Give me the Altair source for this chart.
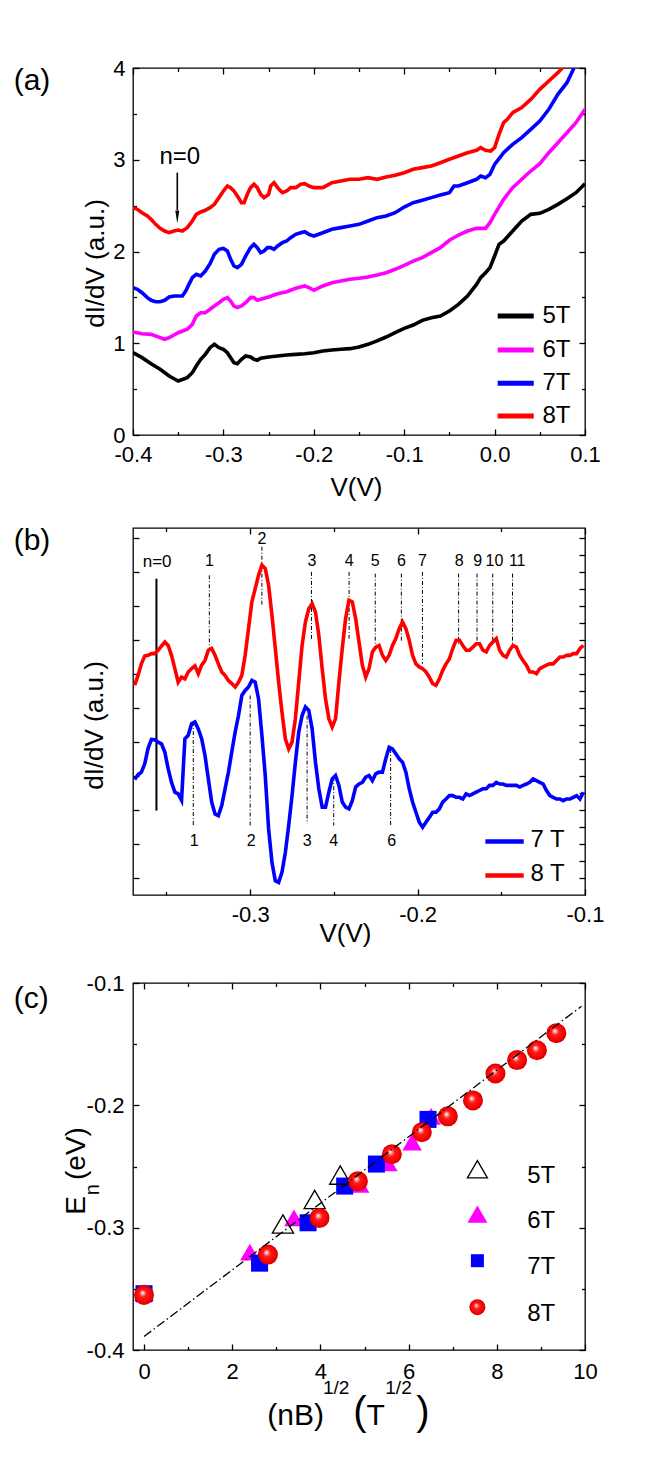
import altair as alt
import pandas as pd

FONT = "Liberation Sans"
W, H = 452, 367
MINUS = "replace(datum.label, '\u2212', '-')"

# ---------------- panel (a): dI/dV curves at 5T..8T ----------------
A_SERIES = ["5T", "6T", "7T", "8T"]
A_COLORS = ["#000000", "#ff00ff", "#0000ff", "#ff0000"]

A_V_5T = [-0.4, -0.39, -0.38, -0.37, -0.36, -0.35, -0.34, -0.3344, -0.33, -0.3251,
          -0.32, -0.3148, -0.31, -0.3049, -0.30, -0.2956, -0.292, -0.2883, -0.2846, -0.28,
          -0.2754, -0.27, -0.2662, -0.2625, -0.2588, -0.25, -0.24, -0.23, -0.22, -0.21,
          -0.20, -0.19, -0.18, -0.17, -0.16, -0.15, -0.14, -0.13, -0.12, -0.11,
          -0.10, -0.09, -0.08, -0.07, -0.06, -0.05, -0.04, -0.03, -0.02, -0.0154,
          -0.01, -0.0051, 0.0, 0.0049, 0.01, 0.02, 0.03, 0.04, 0.05, 0.06,
          0.07, 0.08, 0.09, 0.10]
A_G_5T = [0.897, 0.843, 0.777, 0.716, 0.643, 0.589, 0.625, 0.679, 0.752, 0.825,
          0.879, 0.952, 0.988, 0.952, 0.934, 0.897, 0.843, 0.788, 0.777, 0.825,
          0.861, 0.850, 0.825, 0.814, 0.836, 0.850, 0.861, 0.872, 0.879, 0.886,
          0.897, 0.916, 0.926, 0.934, 0.941, 0.959, 0.988, 1.025, 1.068, 1.115,
          1.163, 1.199, 1.250, 1.279, 1.297, 1.352, 1.424, 1.515, 1.642, 1.715,
          1.769, 1.824, 1.951, 2.078, 2.114, 2.223, 2.332, 2.405, 2.416, 2.460,
          2.514, 2.576, 2.641, 2.739]

A_V_6T = [-0.4, -0.39, -0.38, -0.37, -0.365, -0.36, -0.3546, -0.35, -0.34, -0.3344,
          -0.33, -0.3251, -0.32, -0.3148, -0.31, -0.3049, -0.30, -0.2956, -0.292, -0.2883,
          -0.2846, -0.28, -0.2754, -0.27, -0.2662, -0.2625, -0.2588, -0.25, -0.24, -0.23,
          -0.22, -0.21, -0.2053, -0.20, -0.19, -0.18, -0.17, -0.16, -0.15, -0.14,
          -0.13, -0.12, -0.11, -0.10, -0.09, -0.08, -0.07, -0.06, -0.05, -0.04,
          -0.03, -0.02, -0.01, -0.0051, 0.0, 0.01, 0.02, 0.03, 0.04, 0.05,
          0.06, 0.07, 0.08, 0.09, 0.10]
A_G_6T = [1.123, 1.104, 1.097, 1.061, 1.043, 1.061, 1.090, 1.115, 1.152, 1.206,
          1.297, 1.333, 1.333, 1.370, 1.406, 1.442, 1.479, 1.497, 1.460, 1.406,
          1.388, 1.406, 1.442, 1.497, 1.497, 1.468, 1.479, 1.504, 1.540, 1.562,
          1.599, 1.624, 1.606, 1.577, 1.624, 1.660, 1.678, 1.697, 1.708, 1.722,
          1.744, 1.769, 1.806, 1.849, 1.896, 1.933, 1.987, 2.042, 2.122, 2.180,
          2.223, 2.252, 2.252, 2.314, 2.405, 2.569, 2.696, 2.787, 2.877, 2.957,
          3.077, 3.186, 3.295, 3.404, 3.549]

A_V_7T = [-0.4, -0.3952, -0.39, -0.3841, -0.38, -0.3749, -0.37, -0.365, -0.36, -0.3546,
          -0.35, -0.3454, -0.3417, -0.3381, -0.3344, -0.33, -0.3251, -0.32, -0.3148, -0.31,
          -0.3049, -0.30, -0.2956, -0.292, -0.2883, -0.2846, -0.28, -0.2754, -0.27, -0.2662,
          -0.2625, -0.2588, -0.2551, -0.2514, -0.2477, -0.244, -0.24, -0.2348, -0.23, -0.2256,
          -0.22, -0.2145, -0.21, -0.2053, -0.20, -0.19, -0.18, -0.17, -0.16, -0.15,
          -0.14, -0.13, -0.12, -0.11, -0.10, -0.09, -0.08, -0.07, -0.06, -0.05,
          -0.0449, -0.04, -0.03, -0.02, -0.0154, -0.01, -0.0051, 0.0, 0.01, 0.02,
          0.03, 0.04, 0.05, 0.06, 0.07, 0.08, 0.0878]
A_G_7T = [1.606, 1.588, 1.551, 1.497, 1.468, 1.453, 1.453, 1.468, 1.504, 1.515,
          1.515, 1.515, 1.569, 1.642, 1.715, 1.751, 1.733, 1.787, 1.867, 1.969,
          2.024, 2.034, 2.005, 1.915, 1.842, 1.824, 1.860, 1.951, 2.042, 2.078,
          2.042, 1.987, 2.005, 2.042, 2.042, 2.024, 2.060, 2.096, 2.114, 2.151,
          2.187, 2.205, 2.216, 2.187, 2.169, 2.205, 2.242, 2.260, 2.278, 2.296,
          2.332, 2.369, 2.387, 2.423, 2.485, 2.532, 2.558, 2.587, 2.616, 2.641,
          2.714, 2.714, 2.750, 2.787, 2.823, 2.805, 2.841, 2.950, 3.077, 3.168,
          3.241, 3.331, 3.422, 3.550, 3.713, 3.840, 4.0]

A_V_8T = [-0.4, -0.3952, -0.39, -0.3841, -0.38, -0.3749, -0.37, -0.365, -0.36, -0.3546,
          -0.35, -0.3454, -0.34, -0.3344, -0.33, -0.3251, -0.32, -0.3148, -0.31, -0.3049,
          -0.30, -0.2956, -0.292, -0.2883, -0.2846, -0.28, -0.2772, -0.2735, -0.27, -0.2662,
          -0.2625, -0.2588, -0.2551, -0.25, -0.2477, -0.244, -0.24, -0.2348, -0.23, -0.2256,
          -0.22, -0.2145, -0.21, -0.2053, -0.20, -0.19, -0.18, -0.17, -0.16, -0.15,
          -0.14, -0.13, -0.12, -0.11, -0.10, -0.09, -0.08, -0.07, -0.06, -0.05,
          -0.04, -0.03, -0.02, -0.0154, -0.01, -0.0044, 0.0, 0.0049, 0.01, 0.0141,
          0.02, 0.03, 0.04, 0.05, 0.06, 0.07, 0.0749]
A_G_8T = [2.478, 2.460, 2.423, 2.387, 2.351, 2.296, 2.252, 2.223, 2.205, 2.223,
          2.234, 2.223, 2.260, 2.332, 2.405, 2.431, 2.449, 2.478, 2.514, 2.587,
          2.659, 2.714, 2.696, 2.659, 2.605, 2.532, 2.532, 2.623, 2.696, 2.732,
          2.696, 2.623, 2.587, 2.623, 2.714, 2.750, 2.696, 2.641, 2.659, 2.696,
          2.696, 2.732, 2.739, 2.714, 2.696, 2.696, 2.750, 2.768, 2.787, 2.787,
          2.805, 2.787, 2.812, 2.830, 2.859, 2.896, 2.914, 2.932, 2.968, 3.005,
          3.041, 3.077, 3.103, 3.132, 3.103, 3.095, 3.132, 3.277, 3.404, 3.440,
          3.513, 3.568, 3.658, 3.767, 3.858, 3.949, 4.0]

A_CURVES = [(A_V_5T, A_G_5T), (A_V_6T, A_G_6T), (A_V_7T, A_G_7T), (A_V_8T, A_G_8T)]
A_LEG_Y = [1.297, 0.926, 0.563, 0.207]

# ---------------- panel (b): 7T and 8T curves ----------------
B_V = [round(-0.369 + 0.002 * i, 4) for i in range(135)]
B_G_8T = [6.16, 6.45, 6.79, 7.02, 7.04, 7.09, 7.09, 7.19, 7.31, 7.43,
          7.33, 7.04, 6.65, 6.25, 6.40, 6.35, 6.55, 6.65, 6.73, 6.50,
          6.75, 6.89, 7.19, 7.24, 7.04, 6.79, 6.55, 6.45, 6.30, 6.21,
          6.11, 6.25, 6.45, 7.04, 7.82, 8.61, 9.00, 9.39, 9.69, 9.59,
          9.10, 8.22, 7.24, 6.25, 5.37, 4.59, 4.29, 4.49, 5.18, 6.25,
          7.33, 8.02, 8.41, 8.56, 8.31, 7.63, 6.65, 5.76, 5.18, 4.93,
          5.18, 6.25, 7.24, 8.12, 8.66, 8.61, 8.12, 7.43, 6.75, 6.40,
          6.65, 7.14, 7.28, 7.33, 7.04, 6.89, 7.04, 7.33, 7.53, 7.82,
          8.02, 7.82, 7.48, 7.04, 6.79, 6.70, 6.65, 6.55, 6.40, 6.21,
          6.16, 6.35, 6.60, 6.79, 6.94, 7.24, 7.48, 7.48, 7.33, 7.19,
          7.19, 7.28, 7.38, 7.38, 7.19, 7.14, 7.33, 7.43, 7.53, 7.19,
          7.04, 6.99, 7.19, 7.33, 7.28, 7.04, 6.89, 6.75, 6.55, 6.55,
          6.50, 6.65, 6.70, 6.75, 6.79, 6.79, 6.89, 6.99, 6.99, 7.04,
          7.04, 7.09, 7.09, 7.24, 7.33]
B_G_7T = [3.39, 3.53, 3.61, 3.85, 4.31, 4.57, 4.56, 4.49, 4.44, 4.20,
          3.71, 3.31, 3.02, 2.97, 2.78, 4.59, 4.69, 5.03, 5.08, 4.88,
          4.59, 4.10, 3.41, 2.73, 2.38, 2.33, 2.63, 3.12, 3.61, 4.20,
          4.78, 5.27, 5.86, 6.01, 6.11, 6.30, 6.25, 5.76, 4.69, 3.51,
          1.94, 0.96, 0.42, 0.37, 0.67, 1.25, 2.04, 2.92, 3.90, 4.78,
          5.27, 5.52, 5.42, 4.88, 3.90, 3.12, 2.58, 2.58, 3.02, 3.41,
          3.51, 3.22, 2.73, 2.58, 2.53, 2.77, 3.17, 3.26, 3.31, 3.46,
          3.51, 3.36, 3.56, 3.61, 3.61, 4.00, 4.34, 4.29, 4.15, 4.00,
          3.90, 3.61, 3.12, 2.73, 2.43, 2.14, 1.99, 2.14, 2.28, 2.43,
          2.43, 2.53, 2.73, 2.82, 2.92, 2.92, 2.87, 2.87, 2.82, 2.97,
          2.92, 2.97, 3.02, 3.07, 3.12, 3.12, 3.22, 3.22, 3.31, 3.26,
          3.26, 3.22, 3.22, 3.22, 3.22, 3.17, 3.22, 3.26, 3.31, 3.41,
          3.36, 3.31, 3.26, 3.07, 2.92, 2.87, 2.82, 2.82, 2.77, 2.82,
          2.82, 2.87, 2.92, 2.82, 3.02]

# Landau level markers, 8T (top)
B_TOP_N = ["1", "2", "3", "4", "5", "6", "7", "8", "9", "10", "11"]
B_TOP_TX = [-0.3244, -0.2930, -0.2631, -0.2409, -0.2253, -0.2097, -0.1971, -0.1751, -0.1641, -0.1541, -0.1405]
B_TOP_TY = [9.81, 10.45, 9.81, 9.81, 9.81, 9.81, 9.81, 9.81, 9.81, 9.81, 9.81]
B_TOP_LX = [-0.3244, -0.2930, -0.2634, -0.2409, -0.2253, -0.2097, -0.1971, -0.1755, -0.1645, -0.1551, -0.1433]
B_TOP_Y1 = [9.39, 10.23, 9.49, 9.49, 9.44, 9.44, 9.49, 9.44, 9.44, 9.44, 9.44]
B_TOP_Y2 = [7.24, 8.51, 7.48, 7.53, 7.38, 7.43, 6.79, 7.38, 7.38, 7.48, 7.38]
# Landau level markers, 7T (bottom)
B_BOT_N = ["1", "2", "3", "4", "6"]
B_BOT_TX = [-0.3334, -0.2994, -0.2660, -0.2501, -0.2155]
B_BOT_LX = [-0.3340, -0.3000, -0.2660, -0.2501, -0.2161]
B_BOT_Y1 = [5.08, 5.86, 5.27, 3.46, 4.29]
B_BOT_Y2 = [2.04, 2.04, 2.09, 2.04, 2.04]

# ---------------- panel (c): E_n vs sqrt(nB) ----------------
C_X_5T = [3.15, 3.87, 4.45]
C_Y_5T = [-0.297, -0.277, -0.257]
C_X_6T = [0.0, 2.40, 3.40, 4.89, 5.53, 6.08, 6.51]
C_Y_6T = [-0.353, -0.320, -0.292, -0.2645, -0.247, -0.230, -0.209]
C_X_7T = [0.0, 2.62, 3.72, 4.55, 5.27, 6.44]
C_Y_7T = [-0.354, -0.329, -0.296, -0.266, -0.248, -0.2115]
C_X_8T = [0.0, 2.81, 3.98, 4.85, 5.62, 6.30, 6.89, 7.46, 7.97, 8.46, 8.91, 9.35]
C_Y_8T = [-0.355, -0.322, -0.292, -0.262, -0.240, -0.222, -0.209, -0.196, -0.174, -0.163, -0.155, -0.141]
C_FIT_X = [0.0, 9.92]
C_FIT_Y = [-0.389, -0.119]
C_LEG_Y = [-0.2523, -0.289, -0.327, -0.365]


# ---------------- helpers ----------------
def tick_axis(orient, values, size):
    return alt.Axis(orient=orient, values=values, tickSize=size, offset=-size,
                    labels=False, domain=False, grid=False, ticks=True,
                    tickColor="black", tickWidth=1.3, title=None)


def main_axis(orient, values, fmt, labels=True, pad=8, **kw):
    return alt.Axis(orient=orient, values=values, format=fmt, tickSize=6, offset=-6,
                    labels=labels, labelExpr=MINUS, labelFont=FONT, labelFontSize=22,
                    labelColor="black", labelPadding=pad, labelFlush=False,
                    labelOverlap=False, domain=False, grid=False, ticks=True,
                    tickColor="black", tickWidth=1.3, titleFont=FONT, titleFontSize=26,
                    titleFontWeight="normal", titleColor="black", **kw)


def frame(sx, sy, xdom, ydom, xa, ya, xmaj, ymaj, xmin, ymin):
    corner = pd.DataFrame({"x": [xdom[0]], "y": [ydom[0]]})

    def carrier(xax, yax):
        return alt.Chart(corner).mark_point(opacity=0).encode(
            x=alt.X("x:Q", scale=sx, axis=xax),
            y=alt.Y("y:Q", scale=sy, axis=yax))

    layers = [carrier(xa, ya),
              carrier(tick_axis("top", xmaj, 6), tick_axis("right", ymaj, 6))]
    if xmin:
        layers.append(carrier(tick_axis("bottom", xmin, 3.5),
                              tick_axis("left", ymin, 3.5) if ymin else None))
        layers.append(carrier(tick_axis("top", xmin, 3.5),
                              tick_axis("right", ymin, 3.5) if ymin else None))
    return layers


def enc(sx, sy, **extra):
    d = dict(x=alt.X("x:Q", scale=sx, axis=None), y=alt.Y("y:Q", scale=sy, axis=None))
    d.update(extra)
    return d


def panel_label(txt, dy):
    return alt.Chart(pd.DataFrame({"t": [txt]})).mark_text(
        align="left", baseline="alphabetic", font=FONT, fontSize=30, color="black"
    ).encode(x=alt.value(-119.3), y=alt.value(dy), text="t:N")


def texts(df, sx, sy, size, align="center", baseline="middle"):
    return alt.Chart(df).mark_text(align=align, baseline=baseline, font=FONT,
                                   fontSize=size, color="black").encode(
        **enc(sx, sy, text="t:N"))


# ---------------- panel (a) ----------------
XA, YA = [-0.4, 0.1], [0, 4]
sxa = alt.Scale(domain=XA, nice=False, zero=False)
sya = alt.Scale(domain=YA, nice=False, zero=False)

layers_a = frame(
    sxa, sya, XA, YA,
    main_axis("bottom", [-0.4, -0.3, -0.2, -0.1, 0.0, 0.1], ".1f", pad=9.5,
              title="V(V)", titleX=223, titleY=45.4, titleBaseline="top", titleAlign="center"),
    main_axis("left", [0, 1, 2, 3, 4], "d", pad=8, title="dI/dV (a.u.)",
              titleX=-30.3, titleY=195, titleAngle=270, titleBaseline="bottom", titleAlign="center"),
    [-0.4, -0.3, -0.2, -0.1, 0.0, 0.1], [0, 1, 2, 3, 4],
    [-0.35, -0.25, -0.15, -0.05, 0.05], [0.5, 1.5, 2.5, 3.5])

for (vv, gg), col in zip(A_CURVES, A_COLORS):
    df = pd.DataFrame({"x": vv, "y": gg})
    layers_a.append(alt.Chart(df).mark_line(color=col, strokeWidth=3.6, clip=True).encode(**enc(sxa, sya)))

leg_a = pd.DataFrame({"x": [0.0034] * 4, "x2": [0.0433] * 4, "y": A_LEG_Y, "c": A_SERIES})
for i, col in enumerate(A_COLORS):
    layers_a.append(alt.Chart(leg_a.iloc[[i]]).mark_rule(color=col, strokeWidth=5).encode(
        **enc(sxa, sya, x2="x2:Q")))
leg_a_t = pd.DataFrame({"x": [0.053] * 4, "y": A_LEG_Y, "t": A_SERIES})
layers_a.append(texts(leg_a_t, sxa, sya, 24, align="left"))

# n=0 arrow
layers_a.append(texts(pd.DataFrame({"x": [-0.3483], "y": [3.03], "t": ["n=0"]}), sxa, sya, 24))
layers_a.append(alt.Chart(pd.DataFrame({"x": [-0.351], "y": [2.859], "y2": [2.452]})).mark_rule(
    color="black", strokeWidth=1.6).encode(**enc(sxa, sya, y2="y2:Q")))
layers_a.append(alt.Chart(pd.DataFrame({"x": [-0.351], "y": [2.376]})).mark_point(
    shape="M-0.31,-1L0.31,-1L0,1Z", filled=True, color="black", size=169, opacity=1).encode(**enc(sxa, sya)))
layers_a.append(panel_label("(a)", 21.7))

pa = alt.layer(*layers_a).resolve_axis(x="independent", y="independent").properties(width=W, height=H)

# ---------------- panel (b) ----------------
XB, YB = [-0.37, -0.1], [0, 10.78]
sxb = alt.Scale(domain=XB, nice=False, zero=False)
syb = alt.Scale(domain=YB, nice=False, zero=False)
YB_TICKS = [0.5 * k for k in range(1, 22)]

layers_b = frame(
    sxb, syb, XB, YB,
    main_axis("bottom", [-0.3, -0.2, -0.1], ".1f", pad=9.5, title="V(V)",
              titleX=212, titleY=31.4, titleBaseline="top", titleAlign="center"),
    main_axis("left", YB_TICKS, "d", labels=False, title="dI/dV (a.u.)",
              titleX=-32, titleY=197, titleAngle=270, titleBaseline="bottom", titleAlign="center"),
    [-0.3, -0.2, -0.1], YB_TICKS, [-0.35, -0.25, -0.15], None)

# marker lines
top_lines = pd.DataFrame({"x": B_TOP_LX, "y": B_TOP_Y1, "y2": B_TOP_Y2})
bot_lines = pd.DataFrame({"x": B_BOT_LX, "y": B_BOT_Y1, "y2": B_BOT_Y2})
for d in (top_lines, bot_lines):
    layers_b.append(alt.Chart(d).mark_rule(color="black", strokeWidth=1, strokeDash=[4, 2, 1, 2]).encode(
        **enc(sxb, syb, y2="y2:Q")))
layers_b.append(alt.Chart(pd.DataFrame({"x": [-0.356], "y": [9.29], "y2": [2.48]})).mark_rule(
    color="black", strokeWidth=2).encode(**enc(sxb, syb, y2="y2:Q")))

layers_b.append(alt.Chart(pd.DataFrame({"x": B_V, "y": B_G_7T})).mark_line(
    color="#0000ff", strokeWidth=3.6, clip=True).encode(**enc(sxb, syb)))
layers_b.append(alt.Chart(pd.DataFrame({"x": B_V, "y": B_G_8T})).mark_line(
    color="#ff0000", strokeWidth=3.6, clip=True).encode(**enc(sxb, syb)))

layers_b.append(texts(pd.DataFrame({"x": B_TOP_TX, "y": B_TOP_TY, "t": B_TOP_N}), sxb, syb, 16))
layers_b.append(texts(pd.DataFrame({"x": B_BOT_TX, "y": [1.60] * 5, "t": B_BOT_N}), sxb, syb, 16))
layers_b.append(texts(pd.DataFrame({"x": [-0.3556], "y": [9.79], "t": ["n=0"]}), sxb, syb, 17))

leg_b = pd.DataFrame({"x": [-0.1595, -0.1595], "x2": [-0.1366, -0.1366], "y": [1.57, 0.57]})
for i, col in enumerate(["#0000ff", "#ff0000"]):
    layers_b.append(alt.Chart(leg_b.iloc[[i]]).mark_rule(color=col, strokeWidth=4.5).encode(
        **enc(sxb, syb, x2="x2:Q")))
layers_b.append(texts(pd.DataFrame({"x": [-0.1326, -0.1326], "y": [1.63, 0.63], "t": ["7 T", "8 T"]}),
                      sxb, syb, 24, align="left"))
layers_b.append(panel_label("(b)", 21.7))

pb = alt.layer(*layers_b).resolve_axis(x="independent", y="independent").properties(width=W, height=H)

# ---------------- panel (c) ----------------
XC, YC = [-0.25, 10], [-0.4, -0.1]
sxc = alt.Scale(domain=XC, nice=False, zero=False)
syc = alt.Scale(domain=YC, nice=False, zero=False)

layers_c = frame(
    sxc, syc, XC, YC,
    main_axis("bottom", [0, 2, 4, 6, 8, 10], "d", pad=11, title=None),
    main_axis("left", [-0.4, -0.3, -0.2, -0.1], ".1f", pad=9, title=None),
    [0, 2, 4, 6, 8, 10], [-0.4, -0.3, -0.2, -0.1],
    [1, 3, 5, 7, 9], [-0.35, -0.25, -0.15])

SPHERE = {"gradient": "radial", "x1": 0.42, "y1": 0.38, "r1": 0.0,
          "x2": 0.5, "y2": 0.5, "r2": 0.5,
          "stops": [{"offset": 0.0, "color": "#ffffff"},
                    {"offset": 0.13, "color": "#ffb4b4"},
                    {"offset": 0.36, "color": "#ff1c1c"},
                    {"offset": 0.85, "color": "#f20000"},
                    {"offset": 1.0, "color": "#cc0000"}]}


def open_tri(df, size):
    return alt.Chart(df).mark_point(shape="triangle-up", filled=False, stroke="black",
                                    strokeWidth=1.3, size=size, opacity=1).encode(**enc(sxc, syc))


def filled_pt(df, shape, col, size):
    return alt.Chart(df).mark_point(shape=shape, filled=True, color=col, size=size,
                                    opacity=1).encode(**enc(sxc, syc))


def sphere(df, size):
    return alt.Chart(df).mark_point(shape="circle", filled=True, fill=SPHERE, size=size,
                                    opacity=1, strokeWidth=0).encode(**enc(sxc, syc))


layers_c.append(filled_pt(pd.DataFrame({"x": C_X_6T, "y": C_Y_6T}), "triangle-up", "#ff00ff", 380))
layers_c.append(filled_pt(pd.DataFrame({"x": C_X_7T, "y": C_Y_7T}), "square", "#0000ff", 290))
layers_c.append(open_tri(pd.DataFrame({"x": C_X_5T, "y": C_Y_5T}), 450))
layers_c.append(sphere(pd.DataFrame({"x": C_X_8T, "y": C_Y_8T}), 400))
layers_c.append(alt.Chart(pd.DataFrame({"x": C_FIT_X, "y": C_FIT_Y})).mark_line(
    color="black", strokeWidth=1.3, strokeDash=[9, 3, 1.5, 3]).encode(**enc(sxc, syc)))

# legend (c)
layers_c.append(open_tri(pd.DataFrame({"x": [7.56], "y": [C_LEG_Y[0]]}), 400))
layers_c.append(filled_pt(pd.DataFrame({"x": [7.56], "y": [C_LEG_Y[1]]}), "triangle-up", "#ff00ff", 400))
layers_c.append(filled_pt(pd.DataFrame({"x": [7.56], "y": [C_LEG_Y[2]]}), "square", "#0000ff", 169))
layers_c.append(sphere(pd.DataFrame({"x": [7.56], "y": [C_LEG_Y[3]]}), 256))
layers_c.append(texts(pd.DataFrame({"x": [8.69] * 4, "y": [v - 0.0055 for v in C_LEG_Y], "t": A_SERIES}),
                      sxc, syc, 24, align="left"))


# composed axis titles for (c)
def free_text(txt, x, y, size, angle=0):
    kw = dict(align="left", baseline="alphabetic", font=FONT, fontSize=size, color="black")
    if angle:
        kw["angle"] = angle
    return alt.Chart(pd.DataFrame({"t": [txt]})).mark_text(**kw).encode(
        x=alt.value(x), y=alt.value(y), text="t:N")


layers_c += [
    free_text("(nB)", 134.3, 441.7, 30),
    free_text("1/2", 190.0, 410.5, 19),
    free_text("(", 220.3, 441.7, 40),
    free_text("T", 233.5, 441.7, 30),
    free_text("1/2", 252.3, 410.5, 19),
    free_text(")", 283.3, 441.7, 40),
    free_text("E", -47.7, 231.7, 28, 270),
    free_text("n", -33.7, 212.2, 20, 270),
    free_text("(eV)", -47.7, 197.0, 28, 270),
    panel_label("(c)", 25.4),
]

pc = alt.layer(*layers_c).resolve_axis(x="independent", y="independent").properties(width=W, height=H)

chart = alt.vconcat(pa, pb, pc, spacing=23).properties(
    padding={"left": 5, "top": 48, "right": 5, "bottom": 5}
).configure(font=FONT).configure_view(stroke="black", strokeWidth=1.3)

chart.save("out.html", embed_options={"renderer": "svg", "actions": False})
